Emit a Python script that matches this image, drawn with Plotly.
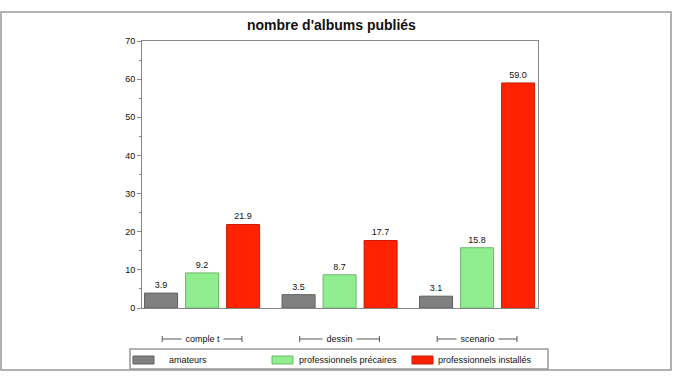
import plotly.graph_objects as go

categories = ["comple t", "dessin", "scenario"]
series_names = ["amateurs", "professionnels précaires", "professionnels installés"]
amateurs = [3.9, 3.5, 3.1]
precaires = [9.2, 8.7, 15.8]
installes = [21.9, 17.7, 59.0]
y_ticks = [0, 10, 20, 30, 40, 50, 60, 70]

colors = ["#808080", "#90ee90", "#ff2200"]
outlines = ["#606060", "#6cb86c", "#c81a00"]

W, H = 680, 383
L, R, T, B = 142, 142, 41, 75
PW, PH = W - L - R, H - T - B


def px(x):
    return (x - L) / PW


def py(y):
    return (H - B - y) / PH


xpos = list(range(len(categories)))
fig = go.Figure()
for name, vals, c, oc in zip(series_names, [amateurs, precaires, installes], colors, outlines):
    fig.add_trace(go.Bar(
        x=xpos, y=vals, name=name,
        marker=dict(color=c, line=dict(color=oc, width=1)),
        text=[f"{v:.1f}" for v in vals], textposition="outside",
        textfont=dict(size=9, color="#111"),
        cliponaxis=False, showlegend=False,
    ))

font = "Liberation Sans, Arial, sans-serif"
fig.update_layout(
    width=W, height=H,
    margin=dict(l=L, r=R, t=T, b=B, autoexpand=False),
    paper_bgcolor="white", plot_bgcolor="white",
    barmode="group", bargap=0.105, bargroupgap=0.195,
    font=dict(family=font, size=9, color="#111"),
    title=dict(text="<b>nombre d'albums publiés</b>", x=px(335), xanchor="center",
               y=1 - 25 / H, yanchor="middle", font=dict(size=14, color="#111")),
    xaxis=dict(range=[-0.437, 2.443], showticklabels=False, ticks="",
               showgrid=False, zeroline=False, showline=True, linecolor="#888",
               linewidth=1, mirror=True),
    yaxis=dict(range=[0, 70], tickvals=y_ticks, ticks="outside", ticklen=4,
               tickcolor="#888", showgrid=False, zeroline=False, showline=True,
               linecolor="#888", linewidth=1, mirror=True,
               tickfont=dict(size=9, color="#111"),
               minor=dict(dtick=5, ticks="outside", ticklen=2, tickcolor="#888")),
    showlegend=False,
)

# category labels with bracket lines, below the plot
yc = py(339)
for i, cat in enumerate(categories):
    fig.add_shape(type="line", xref="x", yref="paper", x0=i - 0.29, x1=i + 0.29,
                  y0=yc, y1=yc, line=dict(color="#555", width=1))
    for xe in (i - 0.29, i + 0.29):
        fig.add_shape(type="line", xref="x", yref="paper", x0=xe, x1=xe,
                      y0=py(336), y1=py(342), line=dict(color="#555", width=1))
    fig.add_annotation(x=i, y=yc, xref="x", yref="paper",
                       text="&nbsp;" + cat + "&nbsp;",
                       showarrow=False, bgcolor="white", font=dict(size=9),
                       borderpad=1, xanchor="center", yanchor="middle")

# legend box (drawn manually to match the boxed legend with wide swatches)
fig.add_shape(type="rect", xref="paper", yref="paper",
              x0=px(130), x1=px(548), y0=py(369), y1=py(349),
              line=dict(color="#999", width=1.5))
swatch_x = [(133, 154, 167), (272, 293, 297), (412, 433, 436)]
for (s0, s1, tx), name, c, oc in zip(swatch_x, series_names, colors, outlines):
    fig.add_shape(type="rect", xref="paper", yref="paper",
                  x0=px(s0), x1=px(s1), y0=py(364), y1=py(356),
                  fillcolor=c, line=dict(color=oc, width=1))
    fig.add_annotation(x=px(tx), y=py(360), xref="paper", yref="paper", text=name,
                       showarrow=False, xanchor="left", yanchor="middle",
                       font=dict(size=9))

# outer frame
fig.add_shape(type="rect", xref="paper", yref="paper",
              x0=px(1), x1=px(671), y0=py(370), y1=py(12),
              line=dict(color="#999", width=1.5), layer="below")

fig.write_html("out.html", config={"displayModeBar": False},
               post_script="document.body.style.margin='0px';")
